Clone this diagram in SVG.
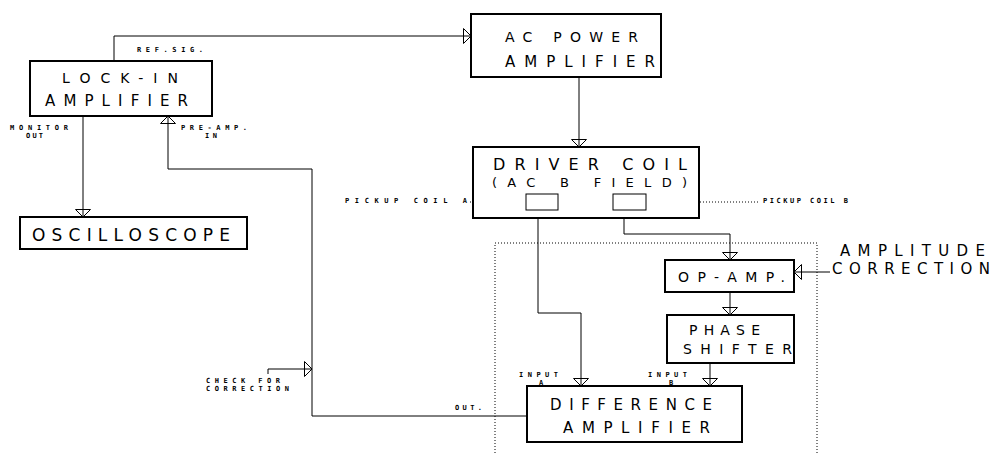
<svg xmlns="http://www.w3.org/2000/svg" width="996" height="453" viewBox="0 0 996 453">
<style>
.box{fill:#fff;stroke:#000;stroke-width:2}
.pc{fill:#fff;stroke:#000;stroke-width:1}
.ln{fill:none;stroke:#000;stroke-width:1}
.dot{fill:none;stroke:#000;stroke-width:1;stroke-dasharray:1 2}
.big{font-family:"DejaVu Sans","Liberation Sans",sans-serif;fill:#000;font-weight:normal}
.sm{font-family:"DejaVu Sans Mono","Liberation Mono",monospace;font-size:7px;font-weight:bold;fill:#000}
</style>
<defs>
<marker id="ah" viewBox="0 0 8 16" refX="8" refY="8" markerWidth="8" markerHeight="16" markerUnits="userSpaceOnUse" orient="auto">
<path d="M0.5,0.5 L8,8 L0.5,15.5 Z" fill="none" stroke="#000" stroke-width="1"/>
</marker>
</defs>
<rect width="996" height="453" fill="#fff"/>
<g id="connectors">
<path class="ln" d="M114,61 V36 H471" marker-end="url(#ah)"/>
<path class="ln" d="M579,77 V147" marker-end="url(#ah)"/>
<path class="ln" d="M83,116 V217" marker-end="url(#ah)"/>
<path class="ln" d="M527,416 H312 V169 H168 V116" marker-end="url(#ah)"/>
<path class="ln" d="M268,374 V369 H312" marker-end="url(#ah)"/>
<path class="ln" d="M538,210 V313 H581 V386" marker-end="url(#ah)"/>
<path class="ln" d="M624,210 V234 H730 V260" marker-end="url(#ah)"/>
<path class="ln" d="M730,292 V315" marker-end="url(#ah)"/>
<path class="ln" d="M710,363 V386" marker-end="url(#ah)"/>
<path class="ln" d="M830,272 H794" marker-end="url(#ah)"/>
<path class="dot" d="M470,202 H526"/>
<path class="dot" d="M646,202 H758"/>
<path class="dot" d="M495,453 V243 H817 V453"/>
</g>
<g id="lockin">
<rect class="box" x="30" y="61" width="182" height="55"/>
<text class="big" x="62" y="83" font-size="14" textLength="116" lengthAdjust="spacing">LOCK-IN</text>
<text class="big" x="45" y="106" font-size="15" textLength="143" lengthAdjust="spacing">AMPLIFIER</text>
<text class="sm" x="137" y="52" textLength="66">REF.SIG.</text>
<text class="sm" x="10" y="130" textLength="58">MONITOR</text>
<text class="sm" x="26" y="138" textLength="17">OUT</text>
<text class="sm" x="181" y="130" textLength="66">PRE-AMP.</text>
<text class="sm" x="205" y="138" textLength="12">IN</text>
</g>
<g id="acpower">
<rect class="box" x="471" y="14" width="190" height="63"/>
<text class="big" x="505" y="42" font-size="14" textLength="133" lengthAdjust="spacing">AC POWER</text>
<text class="big" x="505" y="67" font-size="15" textLength="150" lengthAdjust="spacing">AMPLIFIER</text>
</g>
<g id="driver">
<rect class="box" x="473" y="147" width="226" height="71"/>
<text class="big" x="493" y="170" font-size="16" textLength="194" lengthAdjust="spacing">DRIVER COIL</text>
<text class="big" x="492" y="187" font-size="13" textLength="195" lengthAdjust="spacing">(AC B FIELD)</text>
<rect class="pc" x="526" y="194" width="32" height="16"/>
<rect class="pc" x="613" y="194" width="33" height="16"/>
</g>
<g id="pickupA">
<text class="sm" x="345" y="203" textLength="122">PICKUP COIL A</text>
</g>
<g id="pickupB">
<text class="sm" x="763" y="203" textLength="85">PICKUP COIL B</text>
</g>
<g id="osc">
<rect class="box" x="20" y="217" width="227" height="32"/>
<text class="big" x="32" y="241" font-size="17" textLength="198" lengthAdjust="spacing">OSCILLOSCOPE</text>
</g>
<g id="opamp">
<rect class="box" x="665" y="260" width="129" height="32"/>
<text class="big" x="678" y="282" font-size="14" textLength="107" lengthAdjust="spacing">OP-AMP.</text>
</g>
<g id="ampcorr">
<text class="big" x="840" y="256" font-size="15" textLength="145" lengthAdjust="spacing">AMPLITUDE</text>
<text class="big" x="832" y="274" font-size="15" textLength="158" lengthAdjust="spacing">CORRECTION</text>
</g>
<g id="phase">
<rect class="box" x="667" y="315" width="127" height="48"/>
<text class="big" x="689" y="335" font-size="14" textLength="71" lengthAdjust="spacing">PHASE</text>
<text class="big" x="683" y="354" font-size="14" textLength="109" lengthAdjust="spacing">SHIFTER</text>
</g>
<g id="diff">
<rect class="box" x="527" y="386" width="215" height="56"/>
<text class="big" x="550" y="410" font-size="15" textLength="162" lengthAdjust="spacing">DIFFERENCE</text>
<text class="big" x="563" y="433" font-size="15" textLength="147" lengthAdjust="spacing">AMPLIFIER</text>
<text class="sm" x="519" y="377" textLength="39">INPUT</text>
<text class="sm" x="539" y="385" font-size="6">A</text>
<text class="sm" x="648" y="377" textLength="39">INPUT</text>
<text class="sm" x="669" y="385" font-size="6">B</text>
<text class="sm" x="455" y="410" textLength="27">OUT.</text>
</g>
<g id="check">
<text class="sm" x="206" y="383" textLength="74">CHECK FOR</text>
<text class="sm" x="206" y="391" textLength="83">CORRECTION</text>
</g>
</svg>
